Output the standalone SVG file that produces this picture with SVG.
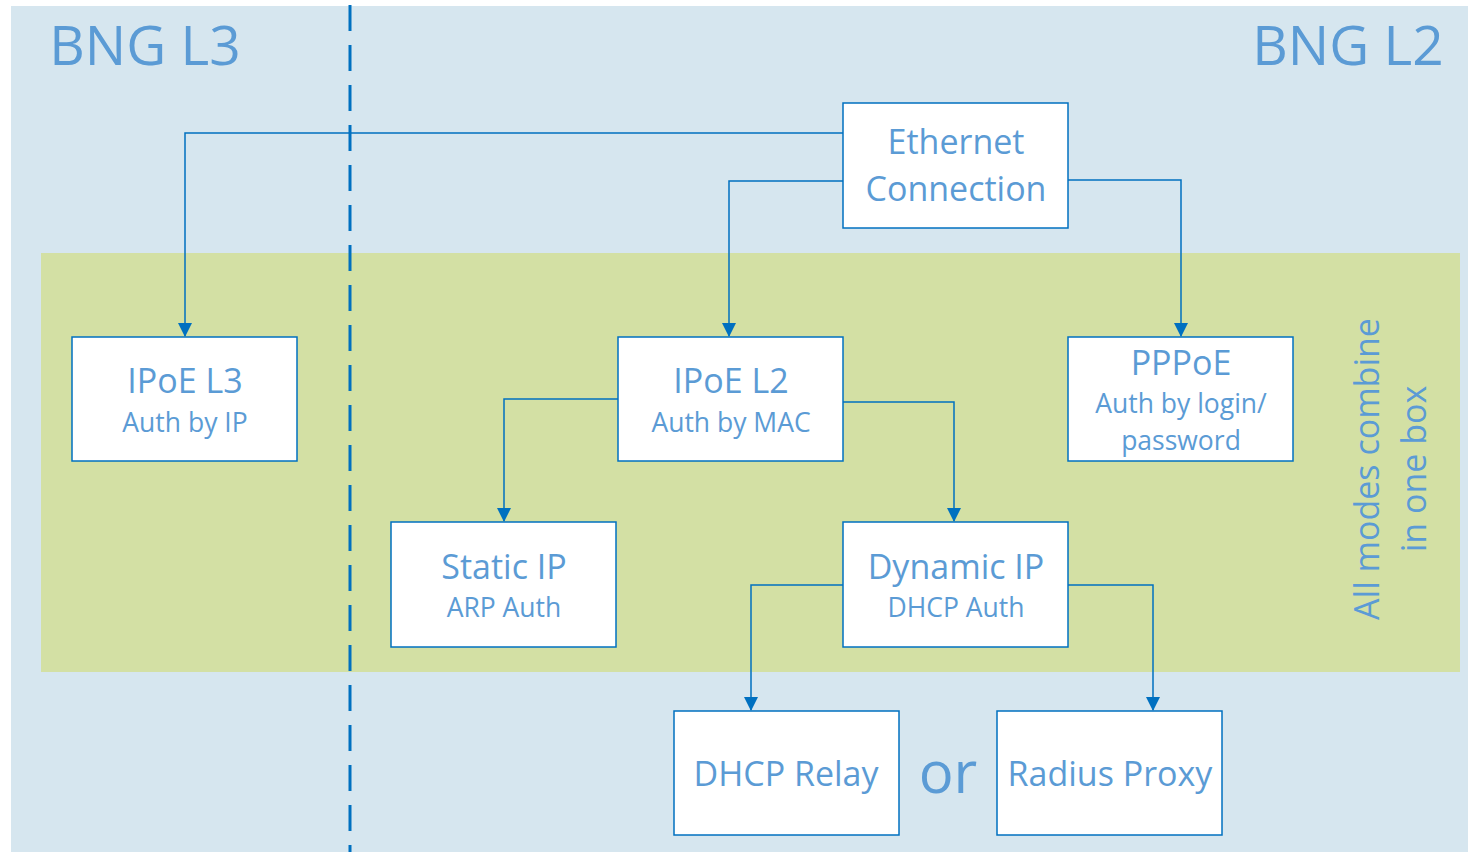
<svg xmlns="http://www.w3.org/2000/svg" width="1468" height="852" viewBox="0 0 1468 852">
<defs>
<marker id="arr" markerWidth="14" markerHeight="14" refX="13" refY="7" orient="auto" markerUnits="userSpaceOnUse">
<path d="M0,0 L14,7 L0,14 Z" fill="#0070C0"/>
</marker>
<style>
.box{fill:#fff;stroke:#0070C0;stroke-width:1.5}
.t{font-family:"Open Sans","Liberation Sans",sans-serif;fill:#5B9BD5;text-anchor:middle}
.big{font-size:34px}
.sub{font-size:26.5px}
.conn{fill:none;stroke:#0070C0;stroke-width:1.5}
</style>
</defs>
<rect x="11" y="6" width="1457" height="846" fill="#D6E6EF"/>
<rect x="41" y="253" width="1419" height="419" fill="#D3E0A4"/>
<line x1="350" y1="5" x2="350" y2="852" stroke="#0070C0" stroke-width="3" stroke-dasharray="26,14"/>
<text class="t" x="145" y="65" style="font-size:55px">BNG L3</text>
<text class="t" x="1348" y="65" style="font-size:55px">BNG L2</text>
<text class="t" style="font-size:34px" transform="translate(1379,469) rotate(-90)" x="0" y="0">All modes combine</text>
<text class="t" style="font-size:34px" transform="translate(1426,469) rotate(-90)" x="0" y="0">in one box</text>
<text class="t" x="948" y="793" style="font-size:58px">or</text>
<g id="connectors">
<polyline class="conn" points="843,133 185,133 185,336" marker-end="url(#arr)"/>
<polyline class="conn" points="843,181 729,181 729,336" marker-end="url(#arr)"/>
<polyline class="conn" points="1068,180 1181,180 1181,336" marker-end="url(#arr)"/>
<polyline class="conn" points="618,399 504,399 504,521" marker-end="url(#arr)"/>
<polyline class="conn" points="843,402 954,402 954,521" marker-end="url(#arr)"/>
<polyline class="conn" points="843,585 751,585 751,710" marker-end="url(#arr)"/>
<polyline class="conn" points="1068,585 1153,585 1153,710" marker-end="url(#arr)"/>
</g>
<g id="ethernet">
<rect class="box" x="843" y="103" width="225" height="125"/>
<text class="t big" x="956" y="154">Ethernet</text>
<text class="t big" x="956" y="201">Connection</text>
</g>
<g id="ipoe-l3">
<rect class="box" x="72" y="337" width="225" height="124"/>
<text class="t big" x="185" y="393">IPoE L3</text>
<text class="t sub" x="185" y="432">Auth by IP</text>
</g>
<g id="ipoe-l2">
<rect class="box" x="618" y="337" width="225" height="124"/>
<text class="t big" x="731" y="393">IPoE L2</text>
<text class="t sub" x="731" y="432">Auth by MAC</text>
</g>
<g id="pppoe">
<rect class="box" x="1068" y="337" width="225" height="124"/>
<text class="t big" x="1181" y="375">PPPoE</text>
<text class="t sub" x="1181" y="413">Auth by login/</text>
<text class="t sub" x="1181" y="450">password</text>
</g>
<g id="static-ip">
<rect class="box" x="391" y="522" width="225" height="125"/>
<text class="t big" x="504" y="579">Static IP</text>
<text class="t sub" x="504" y="617">ARP Auth</text>
</g>
<g id="dynamic-ip">
<rect class="box" x="843" y="522" width="225" height="125"/>
<text class="t big" x="956" y="579">Dynamic IP</text>
<text class="t sub" x="956" y="617">DHCP Auth</text>
</g>
<g id="dhcp-relay">
<rect class="box" x="674" y="711" width="225" height="124"/>
<text class="t big" x="786" y="786">DHCP Relay</text>
</g>
<g id="radius-proxy">
<rect class="box" x="997" y="711" width="225" height="124"/>
<text class="t big" x="1110" y="786">Radius Proxy</text>
</g>
</svg>
